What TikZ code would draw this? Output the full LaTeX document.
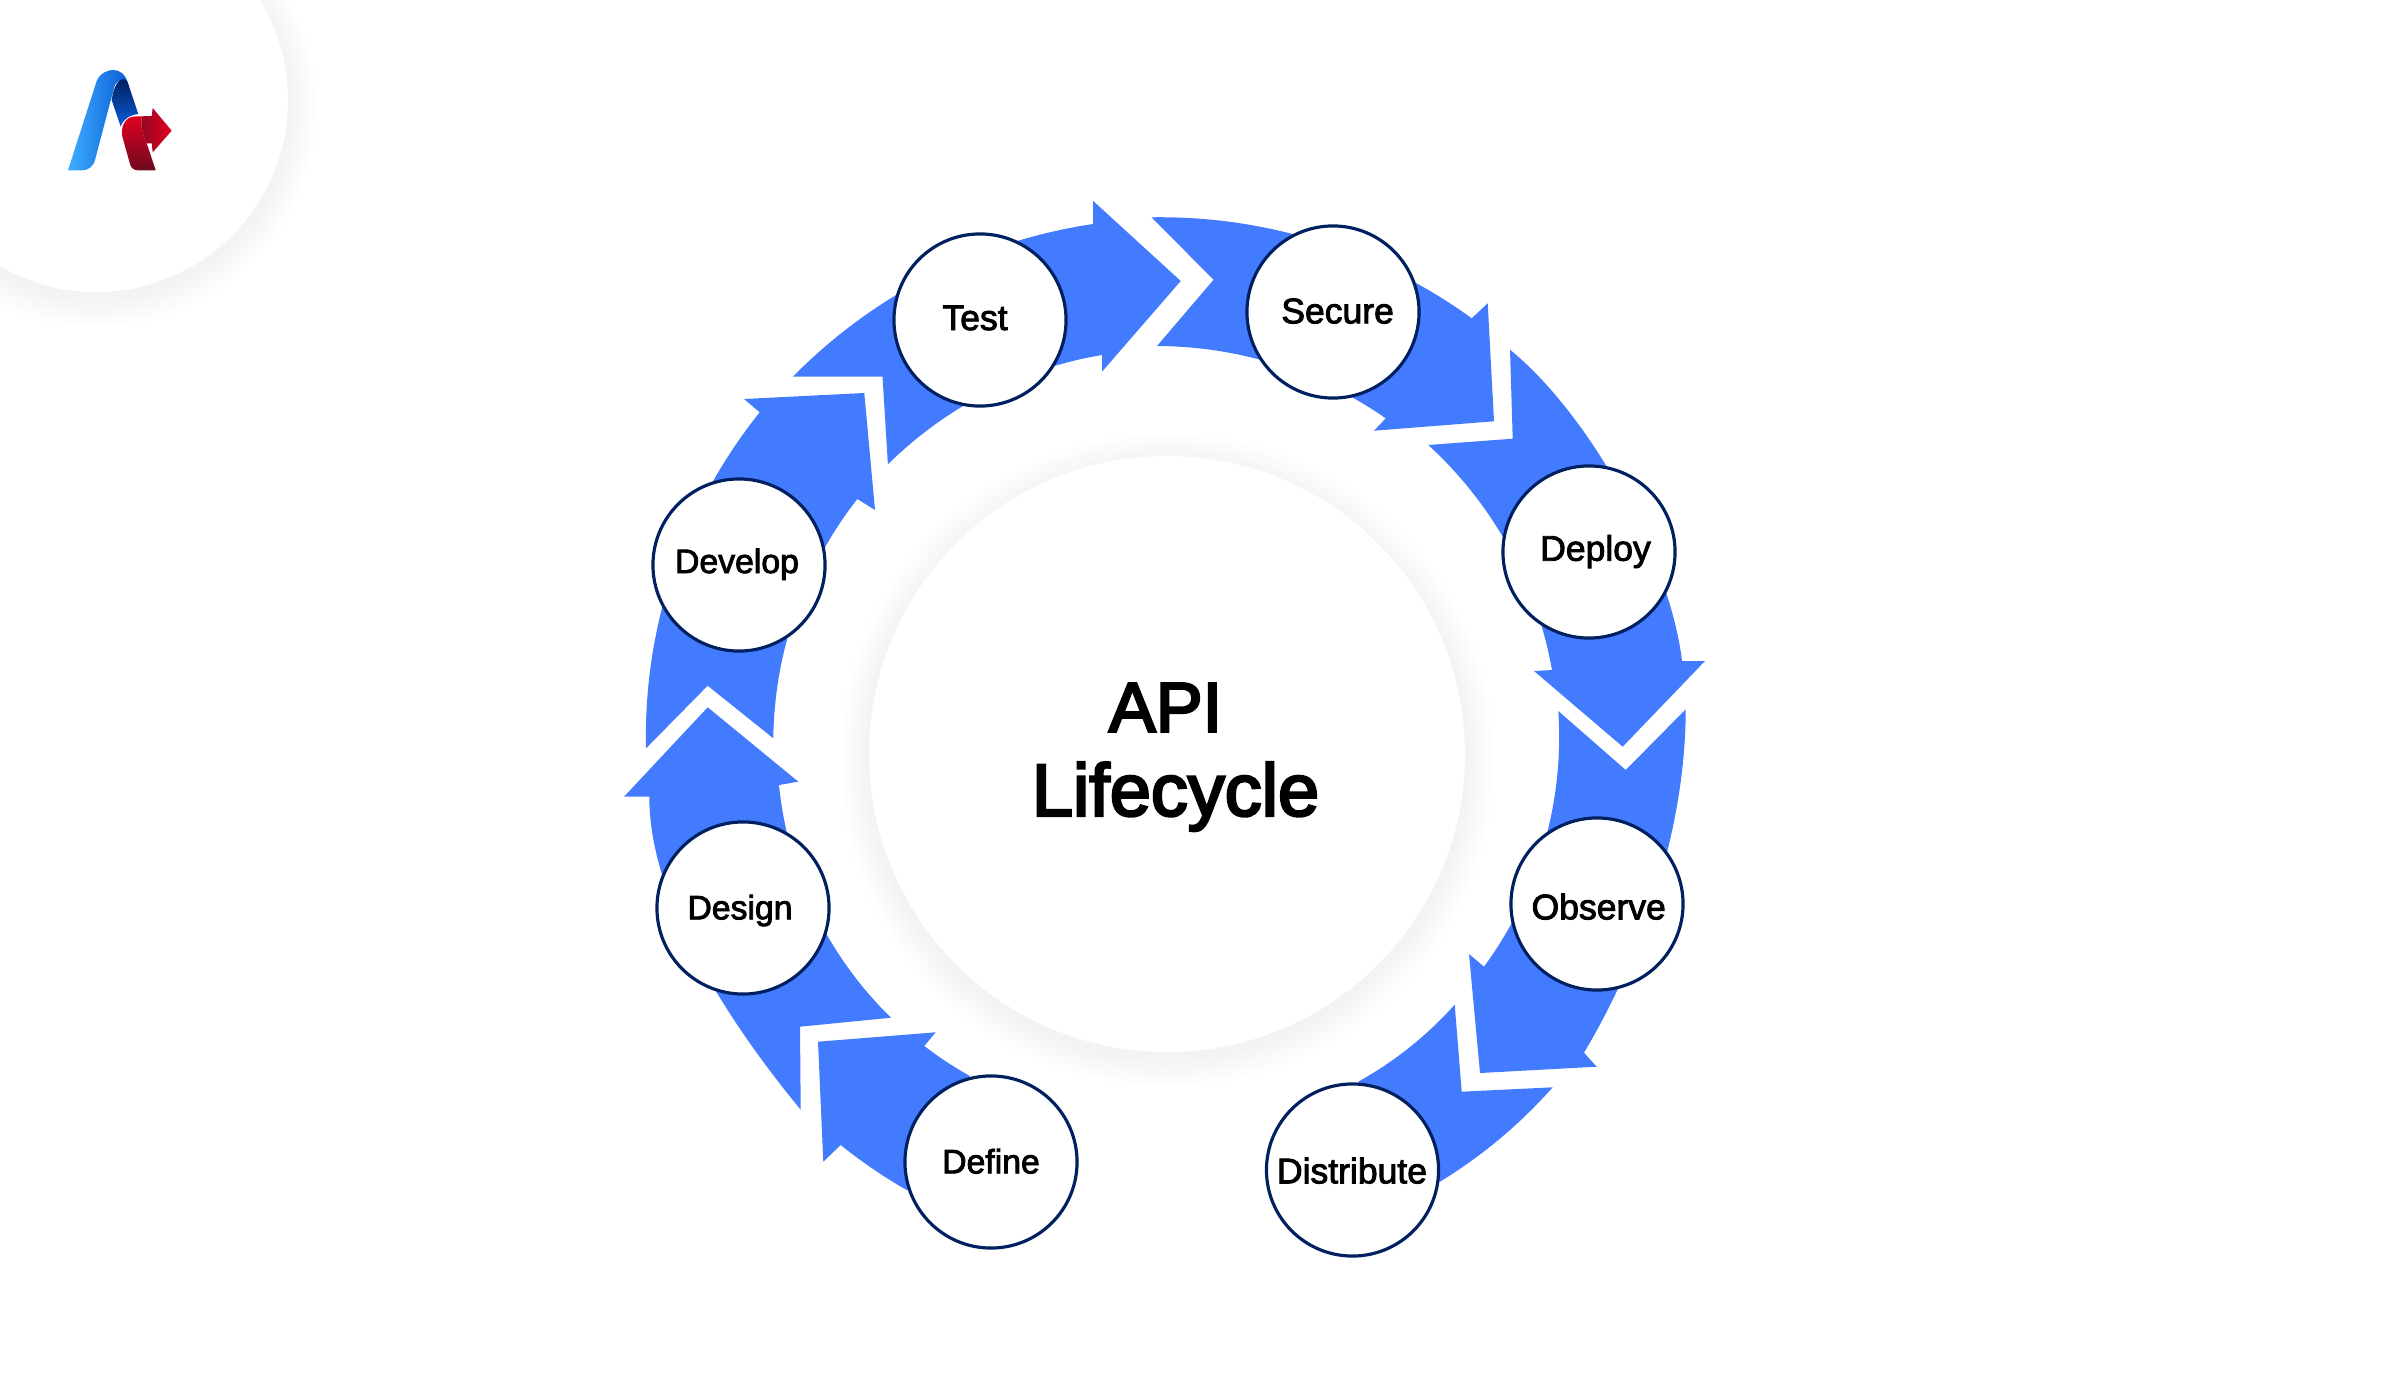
\documentclass[tikz,border=0pt]{standalone}
\usepackage{fontspec}
\setmainfont{Liberation Sans}[FakeBold=2.5]
\newfontfamily\titlefont{Liberation Sans}[FakeBold=3.5]
\usetikzlibrary{backgrounds}

\definecolor{ringblue}{HTML}{437BFF}
\definecolor{ringnavy}{HTML}{00205F}
\definecolor{logolight}{HTML}{3DADFF}
\definecolor{logoblue}{HTML}{0A5DD8}
\definecolor{logonavy}{HTML}{00205F}
\definecolor{logored}{HTML}{E20022}
\definecolor{logomaroon}{HTML}{6E0A1E}

\tikzset{
    stage/.style={circle,draw=ringnavy,line width=0.9pt,fill=white,minimum size=1.72cm,inner sep=0pt},
    stagetext/.style={anchor=base,font=\fontsize{10.1pt}{12pt}\selectfont,inner sep=0pt},
    narrowtext/.style={stagetext,font=\fontsize{9.6pt}{12pt}\selectfont},
    titletext/.style={anchor=base,inner sep=0pt},
    ringarrow/.style={fill=ringblue,every to/.style={looseness=0.88}}
}

\begin{document}
\begin{tikzpicture}[x=0.01cm,y=-0.01cm]
    \useasboundingbox (0,0) rectangle (2400,1388);

    \node[stage] (define) at (991,1162) {};
    \node[stage] (design) at (743,908) {};
    \node[stage] (develop) at (739,565) {};
    \node[stage] (test) at (980,320) {};
    \node[stage] (secure) at (1333,312) {};
    \node[stage] (deploy) at (1589,552) {};
    \node[stage] (observe) at (1597,904) {};
    \node[stage] (distribute) at (1352.5,1170) {};

    \node[narrowtext] (definetext) at (991,1173.3) {Define};
    \node[narrowtext] (designtext) at (740,919.3) {Design};
    \node[narrowtext] (developtext) at (737,573) {Develop};
    \node[stagetext] (testtext) at (975,330) {Test};
    \node[stagetext] (securetext) at (1337.6,323.3) {Secure};
    \node[stagetext] (deploytext) at (1595.5,560.7) {Deploy};
    \node[stagetext] (observetext) at (1598.7,919.3) {Observe};
    \node[stagetext] (distributetext) at (1352,1183.3) {Distribute};

    \begin{scope}[on background layer]
        \fill[white] (0,0) rectangle (2400,1388);

        % soft shadows
        \foreach \r [evaluate=\r as \g using (30-\r)*0.16] in {30,29,...,1} {
            \fill[black!\g] (1167,760) circle ({298+\r});
            \fill[black!\g] (96,106) circle ({192+\r});
        }
        \fill[white] (1167,754) circle (298);
        \fill[white] (96,100) circle (192);

        % the ring, clockwise from define
        \fill[ringarrow] (define.center) -- (906.7,1190) to[bend left=4.5] (840.7,1145) -- (823.3,1161.7)
            -- (818,1041.7) -- (935.7,1032.3) -- (924.3,1046) to[bend right=4] (969.3,1075.7) -- cycle;
        \fill[ringarrow] (800.7,1109.7) .. controls (735,1030) and (649.3,905) .. (649.3,796.7) -- (624,796.7) -- (707.7,707.3)
            -- (798.3,781.7) -- (779,785) to[bend right=20] (891,1017.7) -- (800,1026.7) -- cycle;
        \fill[ringarrow] (646,748.3) to[bend left=20] (759.7,412.3) -- (744,399) -- (864.3,393)
            -- (875,510) -- (857.3,499) to[bend right=18.6] (773.3,738.3) -- (707.7,685.7) -- cycle;
        \fill[ringarrow] (792.9,376.7) to[bend left=18.5] (1093.2,224) -- (1093.2,201) -- (1180.7,281)
            -- (1102,371.7) -- (1102,355) to[bend right=17.5] (887.9,464.3) -- (882.5,376.7) -- cycle;
        \fill[ringarrow] (1151.4,217.3) to[bend left=18.4] (1471.7,318.3) -- (1487.7,303.3) -- (1494,421.3)
            -- (1374,430.7) -- (1385.7,418.3) to[bend right=17.3] (1157,346) -- (1213.6,279.7) -- cycle;
        \fill[ringarrow] (1510,349.7) .. controls (1590,415) and (1670,560) .. (1682,661) -- (1705,661) -- (1622.7,746.7)
            -- (1534,671) -- (1552,670) to[bend right=18.7] (1428.3,445) -- (1512.7,438.7) -- cycle;
        \fill[ringarrow] (1685.7,709.3) .. controls (1685.7,820) and (1648,945) .. (1584,1052.7) -- (1596.7,1066.7) -- (1480,1073)
            -- (1469,954) -- (1484,966.7) to[bend right=20] (1558.3,711) -- (1625.7,770) -- cycle;
        \fill[ringarrow] (1552.7,1087.3) to[bend left=8.3] (1440,1181.7) -- (distribute.center)
            -- (1358.3,1081.7) to[bend right=9.3] (1454.7,1004.7) -- (1461.7,1091.7) -- cycle;

        % logo
        \shade[left color=logolight,right color=logoblue]
            (68,170.3) -- (96.7,81) .. controls (100,73) and (108,70) .. (113,70)
            .. controls (120,70) and (125,74) .. (128,83) .. controls (124,78) and (118,80) .. (115,85)
            -- (110,103) -- (95,160) .. controls (93,167) and (88,170.3) .. (82,170.3) -- cycle;
        \shade[top color=logonavy,bottom color=logoblue]
            (111.7,100) .. controls (113,90) and (117,80) .. (123,79) .. controls (126,79) and (127,81) .. (128,83)
            -- (138.3,114) .. controls (130,115) and (123,119) .. (120.7,126.7) -- cycle;
        \shade[top color=logored,bottom color=logomaroon]
            (136,116.3) -- (142,116.3) .. controls (140,125) and (143,135) .. (146.7,143.3) -- (155.7,170.3)
            -- (138,170.3) .. controls (134,170.3) and (131,168) .. (130,164) -- (123,139)
            .. controls (120,130) and (123,116.3) .. (136,116.3) -- cycle;
        \shade[left color=logomaroon!70!logored,right color=logored]
            (142,116.3) -- (151.7,116) -- (152.7,108) -- (171.7,130.7) -- (152.7,152.3) -- (151.7,143.3)
            -- (146.7,143.3) .. controls (143,135) and (140,125) .. (142,116.3) -- cycle;
    \end{scope}

    \node[titletext,font=\titlefont\fontsize{20pt}{24pt}\selectfont] (apititle) at (1165.5,731.7) {API};
    \node[titletext,font=\titlefont\fontsize{21pt}{24pt}\selectfont] (lifecycletitle) at (1175.5,815.7) {Lifecycle};
\end{tikzpicture}
\end{document}
